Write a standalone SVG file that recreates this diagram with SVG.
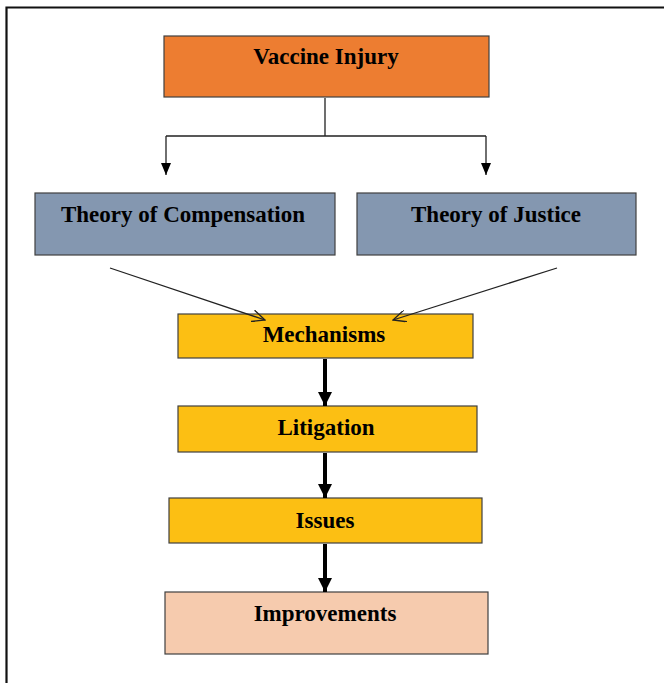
<svg xmlns="http://www.w3.org/2000/svg" width="664" height="683" viewBox="0 0 664 683">
<defs>
<style>
.box{stroke:#404040;stroke-width:1.2}
.t{font-family:"Liberation Serif","Times New Roman",serif;font-weight:bold;font-size:23px;fill:#000;text-anchor:middle}
.thin{stroke:#222;stroke-width:1.3;fill:none}
.thick{stroke:#000;stroke-width:4;fill:none}
</style>
<marker id="tri" markerWidth="12" markerHeight="10" refX="12" refY="5" orient="auto" markerUnits="userSpaceOnUse" viewBox="0 0 12 10">
<path d="M0,0 L12,5 L0,10 Z" fill="#000"/>
</marker>
<marker id="open" markerWidth="14" markerHeight="12" refX="13" refY="6" orient="auto" markerUnits="userSpaceOnUse" viewBox="0 0 14 12">
<path d="M0,0 L13,6 L0,12" fill="none" stroke="#222" stroke-width="1.3"/>
</marker>
<marker id="big" markerWidth="14" markerHeight="14" refX="14" refY="7" orient="auto" markerUnits="userSpaceOnUse" viewBox="0 0 14 14">
<path d="M0,0 L14,7 L0,14 Z" fill="#000"/>
</marker>
</defs>
<rect width="664" height="683" fill="#fff"/>
<path d="M6.5,683 V7.5 H664" fill="none" stroke="#111" stroke-width="2.2"/>
<g id="vaccine-injury">
<rect class="box" x="164" y="36" width="325" height="61" fill="#ED7D31"/>
<text class="t" x="326" y="64">Vaccine Injury</text>
</g>
<g id="theory-compensation">
<rect class="box" x="35" y="193" width="300" height="62" fill="#8497B0"/>
<text class="t" x="183" y="222">Theory of Compensation</text>
</g>
<g id="theory-justice">
<rect class="box" x="357" y="193" width="279" height="62" fill="#8497B0"/>
<text class="t" x="496" y="222">Theory of Justice</text>
</g>
<g id="mechanisms">
<rect class="box" x="178" y="314" width="295" height="44" fill="#FCBF13"/>
<text class="t" x="324" y="342">Mechanisms</text>
</g>
<g id="litigation">
<rect class="box" x="178" y="406" width="299" height="46" fill="#FCBF13"/>
<text class="t" x="326" y="435">Litigation</text>
</g>
<g id="issues">
<rect class="box" x="169" y="498" width="313" height="45" fill="#FCBF13"/>
<text class="t" x="325" y="528">Issues</text>
</g>
<g id="improvements">
<rect class="box" x="165" y="592" width="323" height="62" fill="#F6CBAE"/>
<text class="t" x="325" y="621">Improvements</text>
</g>
<g id="connectors">
<path class="thin" d="M325,98 V136 M166,136 H486"/>
<path class="thin" d="M166,136 V175" marker-end="url(#tri)"/>
<path class="thin" d="M486,136 V175" marker-end="url(#tri)"/>
<path class="thin" d="M110,268 L265,320" marker-end="url(#open)"/>
<path class="thin" d="M557,268 L393,320" marker-end="url(#open)"/>
<path class="thick" d="M325,359 V406" marker-end="url(#big)"/>
<path class="thick" d="M325,453 V498" marker-end="url(#big)"/>
<path class="thick" d="M325,544 V592" marker-end="url(#big)"/>
</g>
</svg>
